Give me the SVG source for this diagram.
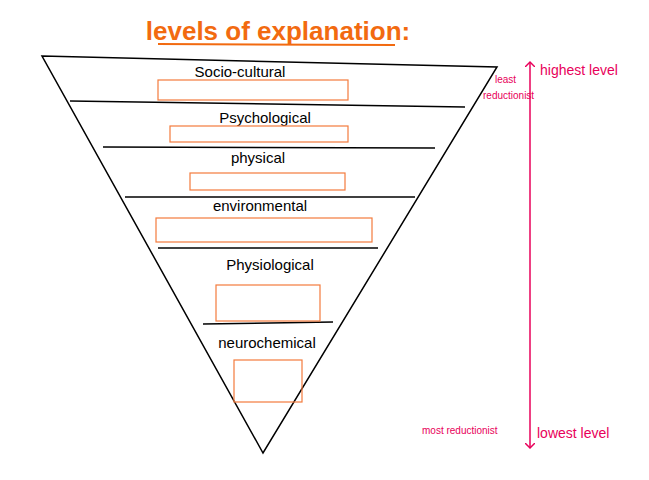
<svg xmlns="http://www.w3.org/2000/svg" width="649" height="480" viewBox="0 0 649 480">
<style>
.ln{stroke:#000;stroke-width:1.5;fill:none}
.bx{fill:none;stroke:#f47b3c;stroke-width:1.2}
.lb{font-family:"Liberation Sans",sans-serif;font-size:15px;fill:#000;text-anchor:middle}
.pk{font-family:"Liberation Sans",sans-serif;fill:#e8005a}
</style>
<defs><marker id="ah" markerWidth="10" markerHeight="10" refX="5" refY="5" orient="auto-start-reverse" markerUnits="userSpaceOnUse"><path d="M0,0 L5,5 L0,10" fill="none" stroke="#e8005a" stroke-width="1.5"/></marker></defs>
<g id="title"><text x="278" y="40" font-family="Liberation Sans,sans-serif" font-size="26" font-weight="bold" fill="#f26a10" text-anchor="middle">levels of explanation:</text><line x1="158" y1="44" x2="395" y2="45" stroke="#f26a10" stroke-width="2"/></g>
<g id="pyramid"><polygon class="ln" points="42,56 497,67 263,453"/></g>
<g id="connectors">
<line class="ln" x1="70" y1="101" x2="465" y2="107"/>
<line class="ln" x1="103" y1="147" x2="435" y2="148"/>
<line class="ln" x1="125" y1="197" x2="415" y2="197"/>
<line class="ln" x1="158" y1="248" x2="378" y2="248"/>
<line class="ln" x1="203" y1="324" x2="333" y2="322"/>
<line x1="530" y1="62" x2="530" y2="448" stroke="#e8005a" stroke-width="1.5" marker-start="url(#ah)" marker-end="url(#ah)"/>
</g>
<g id="n1"><text class="lb" x="240" y="77">Socio-cultural</text><rect class="bx" x="158" y="80" width="190" height="20"/></g>
<g id="n2"><text class="lb" x="265" y="123">Psychological</text><rect class="bx" x="170" y="126" width="178" height="16"/></g>
<g id="n3"><text class="lb" x="258" y="163">physical</text><rect class="bx" x="190" y="173" width="155" height="17"/></g>
<g id="n4"><text class="lb" x="260" y="211">environmental</text><rect class="bx" x="156" y="218" width="216" height="24"/></g>
<g id="n5"><text class="lb" x="270" y="270" font-size="18">Physiological</text><rect class="bx" x="216" y="285" width="104" height="36"/></g>
<g id="n6"><text class="lb" x="267" y="348" font-size="17">neurochemical</text><rect class="bx" x="234" y="360" width="68" height="42"/></g>
<g id="side">
<text class="pk" x="540" y="75" font-size="14">highest level</text>
<text class="pk" x="495" y="83" font-size="10">least</text>
<text class="pk" x="483" y="99" font-size="10">reductionist</text>
<text class="pk" x="422" y="434" font-size="10">most reductionist</text>
<text class="pk" x="537" y="438" font-size="14">lowest level</text>
</g>
</svg>
